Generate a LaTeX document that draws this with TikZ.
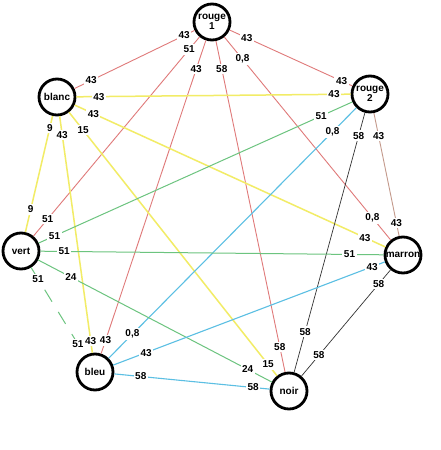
\documentclass[tikz,border=0pt]{standalone}
\usepackage{fontspec}
\setmainfont{Liberation Sans}
\definecolor{edgered}{HTML}{E07A7A}
\definecolor{edgeyellow}{HTML}{F2EC66}
\definecolor{edgegreen}{HTML}{6CC47F}
\definecolor{edgeblue}{HTML}{5BBFE3}
\definecolor{edgeblack}{HTML}{333333}
\definecolor{edgebrown}{HTML}{C49A8C}
\tikzset{
  vtx/.style={circle, draw=black, line width=2.8pt, minimum size=36pt, inner sep=0pt,
    font=\bfseries\fontsize{10}{8}\selectfont, align=center},
  lbl/.style={fill=white, inner sep=1.6pt, font=\bfseries\fontsize{10}{10}\selectfont},
  rd/.style={draw=edgered, line width=0.9pt},
  yl/.style={draw=edgeyellow, line width=1.5pt},
  gr/.style={draw=edgegreen, line width=1pt},
  bl/.style={draw=edgeblue, line width=1.1pt},
  bk/.style={draw=edgeblack, line width=0.7pt},
  br/.style={draw=edgebrown, line width=0.9pt},
}
\begin{document}
\begin{tikzpicture}[x=1pt,y=-1pt]
\useasboundingbox[fill=white] (0,0) rectangle (440,450);
% vertices
\node[vtx] (R1) at (212,22) {rouge\\1};
\node[vtx] (BL) at (57,97) {blanc};
\node[vtx] (R2) at (370,94) {rouge\\2};
\node[vtx] (V)  at (21,251) {vert};
\node[vtx] (M)  at (403,255) {marron};
\node[vtx] (BU) at (95,372) {bleu};
\node[vtx] (N)  at (289,391) {noir};
% edges
\draw[rd] (R1) -- (BL);
\draw[rd] (R1) -- (R2);
\draw[rd] (R1) -- (V);
\draw[rd] (R1) -- (BU);
\draw[rd] (R1) -- (N);
\draw[rd] (R1) -- (M);
\draw[yl] (BL) -- (R2);
\draw[yl] (BL) -- (M);
\draw[yl] (BL) -- (V);
\draw[yl] (BL) -- (BU);
\draw[yl] (BL) -- (N);
\draw[gr] (R2) -- (V);
\draw[bl] (R2) -- (BU);
\draw[bk] (R2) -- (N);
\draw[br] (R2) -- (M);
\draw[gr] (V) -- (M);
\draw[gr] (V) -- (N);
\draw[gr, dash pattern=on 14pt off 12pt] (V) -- (BU);
\draw[bl] (M) -- (BU);
\draw[bk] (M) -- (N);
\draw[bl] (BU) -- (N);
% labels
\path (R1.center) -- (BL.center) node[lbl,pos=0.18] (a1) {43} node[lbl,pos=0.78] (b1) {43};
\path (R1.center) -- (R2.center) node[lbl,pos=0.22] (a2) {43} node[lbl,pos=0.82] (b2) {43};
\path (R1.center) -- (V.center)  node[lbl,pos=0.12] (a3) {51} node[lbl,pos=0.86] (b3) {51};
\path (R1.center) -- (BU.center) node[lbl,pos=0.135] (a4) {43} node[lbl,pos=0.91] (b4) {43};
\path (R1.center) -- (N.center)  node[lbl,pos=0.127] (a5) {58} node[lbl,pos=0.88] (b5) {58};
\path (R1.center) -- (M.center)  node[lbl,pos=0.16] (a6) {0,8} node[lbl,pos=0.84] (b6) {0,8};
\path (BL.center) -- (R2.center) node[lbl,pos=0.134] (a7) {43} node[lbl,pos=0.885] (b7) {43};
\path (BL.center) -- (M.center)  node[lbl,pos=0.105] (a8) {43} node[lbl,pos=0.89] (b8) {43};
\path (BL.center) -- (V.center)  node[lbl,pos=0.2] (a9) {9} node[lbl,pos=0.73] (b9) {9};
\path (BL.center) -- (BU.center) node[lbl,pos=0.137] (a10) {43} node[lbl,pos=0.886] (b10) {43};
\path (BL.center) -- (N.center)  node[lbl,pos=0.113] (a11) {15} node[lbl,pos=0.91] (b11) {15};
\path (R2.center) -- (V.center)  node[lbl,pos=0.14] (a12) {51} node[lbl,pos=0.904] (b12) {51};
\path (R2.center) -- (BU.center) node[lbl,pos=0.136] (a13) {0,8} node[lbl,pos=0.864] (b13) {0,8};
\path (R2.center) -- (N.center)  node[lbl,pos=0.14] (a14) {58} node[lbl,pos=0.80] (b14) {58};
\path (R2.center) -- (M.center)  node[lbl,pos=0.26] (a15) {43} node[lbl,pos=0.80] (b15) {43};
\path (V.center) -- (M.center)   node[lbl,pos=0.113] (a16) {51} node[lbl,pos=0.86] (b16) {51};
\path (V.center) -- (N.center)   node[lbl,pos=0.186] (a17) {24} node[lbl,pos=0.846] (b17) {24};
\path (V.center) -- (BU.center)  node[lbl,pos=0.23] (a18) {51} node[lbl,pos=0.77] (b18) {51};
\path (M.center) -- (BU.center)  node[lbl,pos=0.10] (a19) {43} node[lbl,pos=0.834] (b19) {43};
\path (M.center) -- (N.center)   node[lbl,pos=0.214] (a20) {58} node[lbl,pos=0.737] (b20) {58};
\path (BU.center) -- (N.center)  node[lbl,pos=0.236] (a21) {58} node[lbl,pos=0.815] (b21) {58};
\end{tikzpicture}
\end{document}
